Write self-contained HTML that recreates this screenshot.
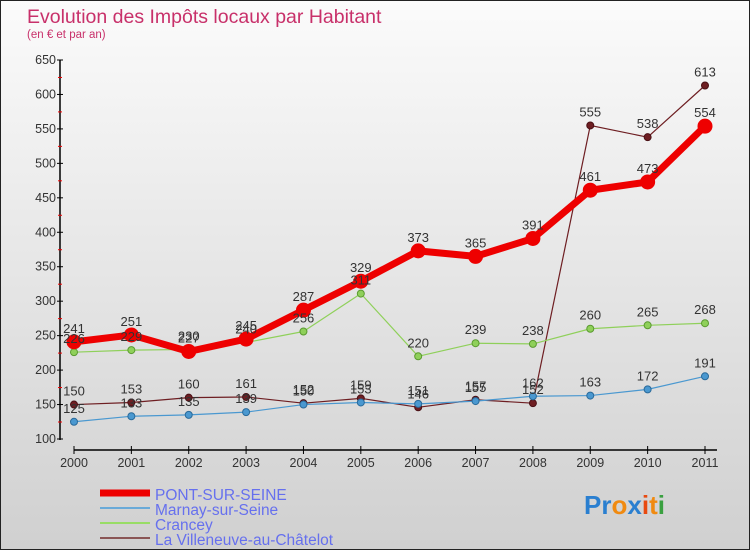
<!DOCTYPE html>
<html><head><meta charset="utf-8"><style>
html,body{margin:0;padding:0}
body{width:750px;height:550px;overflow:hidden;font-family:"Liberation Sans",sans-serif}
</style></head><body>
<svg width="750" height="550" xmlns="http://www.w3.org/2000/svg" id="svg">
<defs><linearGradient id="bg" x1="0" y1="0" x2="0" y2="1"><stop offset="0" stop-color="#fbfbfb"/><stop offset="1" stop-color="#d0d0d0"/></linearGradient></defs>
<rect x="0.5" y="0.5" width="749" height="549" fill="url(#bg)" stroke="#222"/>
<text x="27" y="23" font-size="19.5" fill="#c8306a">Evolution des Impôts locaux par Habitant</text>
<text x="27" y="38" font-size="11.5" fill="#c8306a">(en € et par an)</text>
<g id="axes"></g><g id="series"></g><g id="labels"></g>
<g font-size="15.5" fill="#6670ee">
<line x1="100" y1="493" x2="150" y2="493" stroke="#e00" stroke-width="7"/>
<text x="155" y="500">PONT-SUR-SEINE</text>
<line x1="100" y1="508" x2="150" y2="508" stroke="#6aaad8" stroke-width="2"/>
<text x="155" y="515">Marnay-sur-Seine</text>
<line x1="100" y1="523" x2="150" y2="523" stroke="#99dd66" stroke-width="2"/>
<text x="155" y="530">Crancey</text>
<line x1="100" y1="538" x2="150" y2="538" stroke="#8a5555" stroke-width="2"/>
<text x="155" y="545">La Villeneuve-au-Châtelot</text>
</g>
<text x="584" y="514" font-size="26" font-weight="bold"><tspan fill="#2a7fd0">Pr</tspan><tspan fill="#f08a10">o</tspan><tspan fill="#2a7fd0">x</tspan><tspan fill="#e84a10">i</tspan><tspan fill="#f08a10">t</tspan><tspan fill="#3aa040">i</tspan></text>
</svg>
<script>
const years=["2000","2001","2002","2003","2004","2005","2006","2007","2008","2009","2010","2011"];
const yTicks=[100,150,200,250,300,350,400,450,500,550,600,650];
const pont=[241,251,227,245,287,329,373,365,391,461,473,554];
const marnay=[125,133,135,139,150,153,151,155,162,163,172,191];
const crancey=[226,229,230,240,256,311,220,239,238,260,265,268];
const villeneuve=[150,153,160,161,152,159,146,157,152,555,538,613];
const NS="http://www.w3.org/2000/svg";
function xS(i){return 74+i*(705-74)/11;}
function yS(v){return 439-(v-100)*(379/550);}
function mk(t,a,p){const e=document.createElementNS(NS,t);for(const k in a)e.setAttribute(k,a[k]);p.appendChild(e);return e;}
const ax=document.getElementById('axes'),se=document.getElementById('series'),lb=document.getElementById('labels');
const yl=mk('line',{x1:60,y1:60,x2:60,y2:440,stroke:'#000','stroke-width':1.5},ax);


yTicks.forEach(v=>{
 const y=yS(v);
 mk('line',{x1:57,y1:y,x2:63,y2:y,stroke:'#000'},ax);
 if(v<650){mk('line',{x1:58,y1:y-17,x2:62,y2:y-17,stroke:'#e00'},ax);}
 const t=mk('text',{x:56,y:y+4,'font-size':12.5,fill:'#333','text-anchor':'end'},ax);
 
 
 t.textContent=v;
});
const xl=mk('line',{x1:74,y1:450,x2:717,y2:450,stroke:'#000','stroke-width':1.5},ax);


years.forEach((yr,i)=>{
 const x=xS(i);
 mk('line',{x1:x,y1:446,x2:x,y2:454,stroke:'#000'},ax);
 const t=mk('text',{x:x,y:467,'font-size':12.5,fill:'#333','text-anchor':'middle'},ax);
 
 
 t.textContent=yr;
});
function series(data,name,color,w,r,stroke){
 const g=mk('g',{},se);
 
 
 mk('polyline',{points:data.map((v,i)=>xS(i)+','+yS(v)).join(' '),fill:'none',stroke:color,'stroke-width':w,'stroke-linejoin':'round'},g);
 data.forEach((v,i)=>{
  const c=mk('circle',{cx:xS(i),cy:yS(v),r:r,fill:color,stroke:stroke,'stroke-width':1},g);
  
  
  const t=mk('text',{x:xS(i),y:yS(v)-9,'font-size':13,fill:'#333','text-anchor':'middle'},lb);
  
  
  t.textContent=v;
 });
}
series(villeneuve,'villeneuve','#6e1e22',1.2,3.5,'#4a1015');
series(crancey,'crancey','#8fd05a',1.2,3.5,'#5a9a30');
series(marnay,'marnay','#4a98d0',1.2,3.5,'#2a6a9a');
series(pont,'pont','#ee0000',7,7,'#ee0000');
</script>
</body></html>
